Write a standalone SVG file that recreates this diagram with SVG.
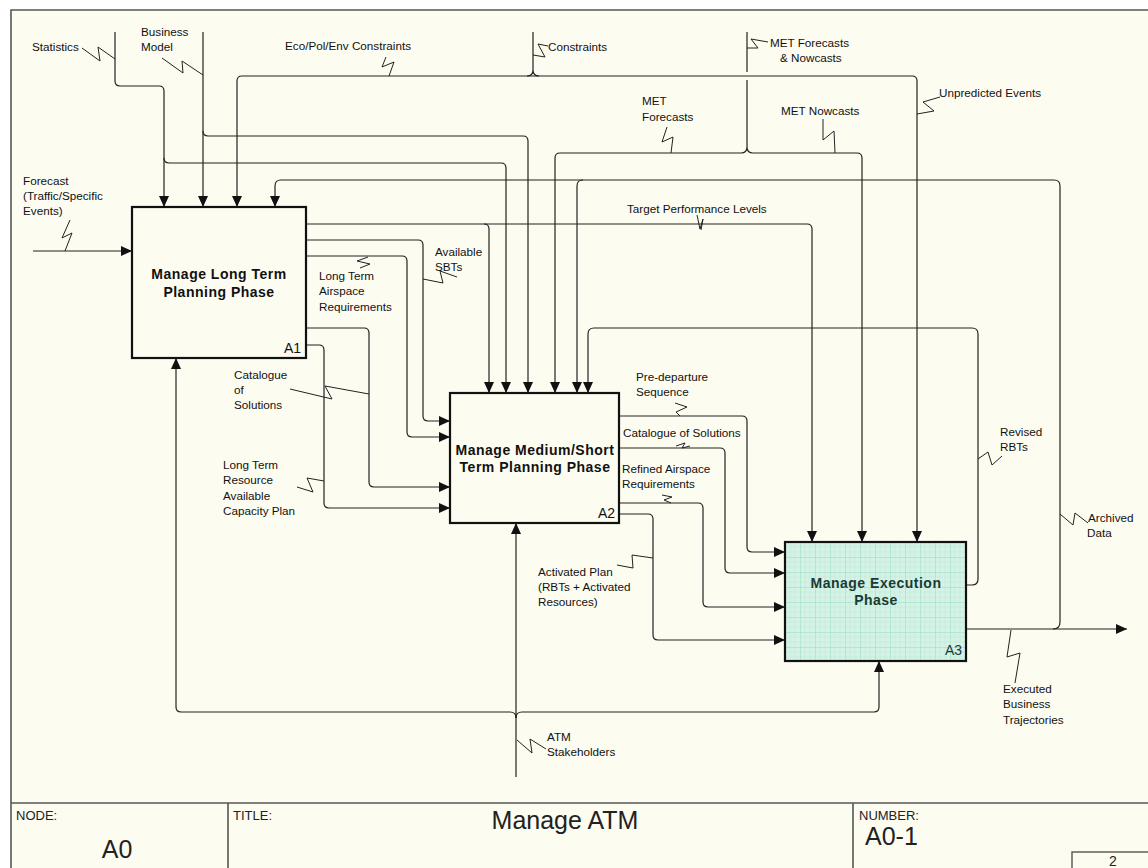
<svg xmlns="http://www.w3.org/2000/svg" width="1148" height="868" viewBox="0 0 1148 868">
<defs>
<style>
.c{fill:none;stroke:#222;stroke-width:1.2}
.cm{fill:none;stroke:#222;stroke-width:1.2;marker-end:url(#ah)}
.sq{fill:none;stroke:#222;stroke-width:1}
.t{font-family:"Liberation Sans",Arial,sans-serif;font-size:11.7px;fill:#111}
.bt{font-family:"Liberation Sans",Arial,sans-serif;font-size:14px;font-weight:bold;letter-spacing:0.5px;text-anchor:middle;fill:#111}
.box{fill:#fdfcf1;stroke:#111;stroke-width:2.2}
.id{font-family:"Liberation Sans",Arial,sans-serif;font-size:14px;text-anchor:end;fill:#111}
.fr{fill:none;stroke:#555;stroke-width:1.6}
.tb{font-family:"Liberation Sans",Arial,sans-serif;fill:#222}
</style>
<marker id="ah" markerUnits="userSpaceOnUse" markerWidth="11" markerHeight="10" refX="11" refY="5" orient="auto"><path d="M0,0 L11,5 L0,10 z" fill="#111"/></marker>
<pattern id="grid" patternUnits="userSpaceOnUse" x="785" y="542" width="15" height="15">
<rect width="15" height="15" fill="#d4f2e5"/>
<path d="M5,0 V15 M10,0 V15 M0,5 H15 M0,10 H15" stroke="#bde9d6" stroke-width="0.6" fill="none"/>
<path d="M0,0 V15 M0,0 H15" stroke="#95dcc0" stroke-width="1" fill="none"/>
</pattern>
</defs>
<rect width="1148" height="868" fill="#ffffff"/>
<rect x="11" y="10" width="1137" height="858" fill="#fdfcf1"/>
<g id="frame">
<path class="fr" d="M11,868 V10 H1148"/>
<path class="fr" d="M11,803 H1148 M228,803 V868 M853,803 V868"/>
<rect x="1072" y="852" width="80" height="20" fill="none" stroke="#555" stroke-width="1.4"/>
<text class="tb" x="16" y="820" font-size="13">NODE:</text>
<text class="tb" x="117" y="858" font-size="25" text-anchor="middle">A0</text>
<text class="tb" x="233" y="820" font-size="13">TITLE:</text>
<text class="tb" x="565" y="829" font-size="25" text-anchor="middle">Manage ATM</text>
<text class="tb" x="859" y="820" font-size="13">NUMBER:</text>
<text class="tb" x="865" y="845" font-size="25">A0-1</text>
<text class="tb" x="1113" y="866" font-size="14" text-anchor="middle">2</text>
</g>
<g id="connectors">
<path class="cm" d="M33,251 H132"/>
<path class="cm" d="M115,32 V81 Q115,86 120,86 H159 Q164,86 164,91 V207"/>
<path class="cm" d="M164,158 Q164,163 169,163 H501 Q506,163 506,168 V393"/>
<path class="cm" d="M203,32 V207"/>
<path class="cm" d="M203,131 Q203,136 208,136 H523 Q528,136 528,141 V393"/>
<path class="cm" d="M390,76 H242 Q237,76 237,81 V207"/>
<path class="cm" d="M390,76 H912 Q917,76 917,81 V542"/>
<path class="c" d="M533,32 V70 Q533,76 527,76 M533,70 Q533,76 539,76"/>
<path class="c" d="M747,32 V72 M747,80 V147 Q747,153 741,153 M747,147 Q747,153 753,153"/>
<path class="cm" d="M741,153 H560 Q555,153 555,158 V393"/>
<path class="cm" d="M753,153 H857 Q862,153 862,158 V542"/>
<path class="cm" d="M306,224 H807 Q812,224 812,229 V542"/>
<path class="cm" d="M484,224 Q489,224 489,229 V393"/>
<path class="cm" d="M306,240 H418 Q423,240 423,245 V416 Q423,421 428,421 H450"/>
<path class="cm" d="M306,256 H402 Q407,256 407,261 V432 Q407,437 412,437 H450"/>
<path class="cm" d="M306,328 H364 Q369,328 369,333 V482 Q369,487 374,487 H450"/>
<path class="cm" d="M306,345 H319 Q324,345 324,350 V503 Q324,508 329,508 H450"/>
<path class="cm" d="M516,777 V523"/>
<path class="cm" d="M516,718 Q516,712 510,712 H181 Q176,712 176,707 V358"/>
<path class="cm" d="M516,718 Q516,712 522,712 H874 Q879,712 879,707 V661"/>
<path class="cm" d="M619,416 H742 Q747,416 747,421 V547 Q747,552 752,552 H785"/>
<path class="cm" d="M619,448 H720 Q725,448 725,453 V568 Q725,573 730,573 H785"/>
<path class="cm" d="M619,503 H698 Q703,503 703,508 V602 Q703,607 708,607 H785"/>
<path class="cm" d="M619,514 H648 Q653,514 653,519 V635 Q653,640 658,640 H785"/>
<path class="cm" d="M966,585 H972 Q978,585 978,579 V334 Q978,328 972,328 H594 Q588,328 588,334 V393"/>
<path class="cm" d="M966,629 H1127"/>
<path class="cm" d="M1053,629 Q1060,629 1060,622 V186 Q1060,180 1054,180 H281 Q275,180 275,186 V207"/>
<path class="cm" d="M583,180 Q577,180 577,186 V393"/>
<!-- squiggles -->
<polyline class="sq" points="82,48 100,61 98,47 115,59"/>
<polyline class="sq" points="162,58 183,73 182,61 203,75"/>
<polyline class="sq" points="386,57 382,67 394,62 389,76"/>
<polyline class="sq" points="533,55 545,57 538,44 548,46"/>
<polyline class="sq" points="747,48 758,48 751,39 768,42"/>
<polyline class="sq" points="667,127 662,142 673,137 671,153"/>
<polyline class="sq" points="823,119 823,140 834,131 835,153"/>
<polyline class="sq" points="940,97 923,102 934,111 917,114"/>
<polyline class="sq" points="697,215 700,229 703,219 701,230"/>
<polyline class="sq" points="423,279 443,283 440,271 457,277"/>
<polyline class="sq" points="368,257 357,261 370,264 360,268"/>
<polyline class="sq" points="290,389 332,399 325,386 369,394"/>
<polyline class="sq" points="297,487 313,492 307,478 324,481"/>
<polyline class="sq" points="675,403 687,407 676,412 680,416"/>
<polyline class="sq" points="676,446 685,443 682,448 690,446"/>
<polyline class="sq" points="662,495 672,497 664,500 671,503"/>
<polyline class="sq" points="617,565 633,568 632,555 653,558"/>
<polyline class="sq" points="517,740 532,753 530,739 546,749"/>
<polyline class="sq" points="978,459 988,452 992,465 1002,456"/>
<polyline class="sq" points="1060,514 1073,525 1075,513 1088,523"/>
<polyline class="sq" points="1011,630 1007,657 1020,653 1015,683"/>
<polyline class="sq" points="70,220 62,238 72,233 65,251"/>
</g>
<g id="labels">
<text class="t" x="32" y="51">Statistics</text>
<text class="t" x="141" y="36">Business</text>
<text class="t" x="141" y="51">Model</text>
<text class="t" x="285" y="50">Eco/Pol/Env Constraints</text>
<text class="t" x="548" y="51">Constraints</text>
<text class="t" x="770" y="47">MET Forecasts</text>
<text class="t" x="780" y="62">&amp; Nowcasts</text>
<text class="t" x="642" y="105">MET</text>
<text class="t" x="642" y="121">Forecasts</text>
<text class="t" x="781" y="115">MET Nowcasts</text>
<text class="t" x="939" y="97">Unpredicted Events</text>
<text class="t" x="627" y="213">Target Performance Levels</text>
<text class="t" x="435" y="256">Available</text>
<text class="t" x="435" y="271">SBTs</text>
<text class="t" x="319" y="280">Long Term</text>
<text class="t" x="319" y="295">Airspace</text>
<text class="t" x="319" y="311">Requirements</text>
<text class="t" x="234" y="379">Catalogue</text>
<text class="t" x="234" y="394">of</text>
<text class="t" x="234" y="409">Solutions</text>
<text class="t" x="223" y="469">Long Term</text>
<text class="t" x="223" y="484">Resource</text>
<text class="t" x="223" y="500">Available</text>
<text class="t" x="223" y="515">Capacity Plan</text>
<text class="t" x="23" y="185">Forecast</text>
<text class="t" x="23" y="200">(Traffic/Specific</text>
<text class="t" x="23" y="215">Events)</text>
<text class="t" x="636" y="381">Pre-departure</text>
<text class="t" x="636" y="396">Sequence</text>
<text class="t" x="623" y="437">Catalogue of Solutions</text>
<text class="t" x="622" y="473">Refined Airspace</text>
<text class="t" x="622" y="488">Requirements</text>
<text class="t" x="538" y="576">Activated Plan</text>
<text class="t" x="538" y="591">(RBTs + Activated</text>
<text class="t" x="538" y="606">Resources)</text>
<text class="t" x="547" y="741">ATM</text>
<text class="t" x="547" y="756">Stakeholders</text>
<text class="t" x="1000" y="436">Revised</text>
<text class="t" x="1000" y="451">RBTs</text>
<text class="t" x="1088" y="522">Archived</text>
<text class="t" x="1087" y="537">Data</text>
<text class="t" x="1003" y="693">Executed</text>
<text class="t" x="1003" y="708">Business</text>
<text class="t" x="1003" y="724">Trajectories</text>
</g>
<g id="A1">
<rect class="box" x="132" y="207" width="174" height="151"/>
<text class="bt" x="219" y="279">Manage Long Term</text>
<text class="bt" x="219" y="297">Planning Phase</text>
<text class="id" x="301" y="353">A1</text>
</g>
<g id="A2">
<rect class="box" x="450" y="393" width="169" height="130"/>
<text class="bt" x="535" y="455">Manage Medium/Short</text>
<text class="bt" x="535" y="472">Term Planning Phase</text>
<text class="id" x="615" y="518">A2</text>
</g>
<g id="A3">
<rect x="785" y="542" width="181" height="119" fill="url(#grid)" stroke="#111" stroke-width="2.2"/>
<text class="bt" x="876" y="588" style="fill:#1b3a34">Manage Execution</text>
<text class="bt" x="876" y="605" style="fill:#1b3a34">Phase</text>
<text class="id" x="962" y="655" style="fill:#1b3a34">A3</text>
</g>
</svg>
